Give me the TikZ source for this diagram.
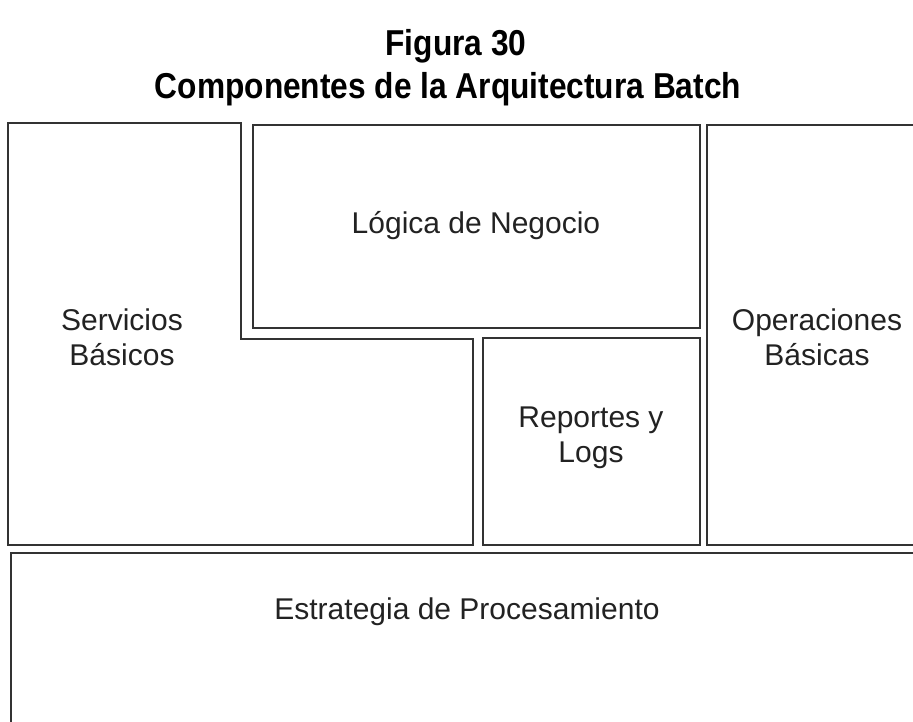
\documentclass[tikz,border=0pt]{standalone}
\usepackage{fontspec}
\usepackage{graphicx}
\setmainfont{Liberation Sans}
\definecolor{edge}{HTML}{333333}
\definecolor{ink}{HTML}{222222}
\begin{document}
\begin{tikzpicture}[x=1pt,y=-1pt,
  box/.style={draw=edge,line width=2pt,fill=white},
  lbl/.style={text=ink,align=center,font=\fontsize{30}{35}\selectfont,inner sep=0pt},
  ttl/.style={text=black,font=\bfseries\fontsize{36}{43}\selectfont,inner sep=0pt}]
\useasboundingbox (0,0) rectangle (913,721);
\fill[white] (0,0) rectangle (913,721);
\clip (0,0) rectangle (913,721);
% title
\node[ttl] (t1) at (456,46) {\scalebox{0.88}[1]{Figura 30}};
\node[ttl] (t2) at (448,89) {\scalebox{0.88}[1]{Componentes de la Arquitectura Batch}};
% boxes
\draw[box] (8,123) -- (241,123) -- (241,339) -- (473,339) -- (473,545) -- (8,545) -- cycle;
\draw[box] (253,125) rectangle (700,328);
\draw[box] (483,338) rectangle (700,545);
\draw[box] (707,125) rectangle (927,545);
\draw[box] (11,553) rectangle (923,740);
% labels
\node[lbl] (serv) at (122,337) {Servicios\\Básicos};
\node[lbl] (log) at (476,226) {Lógica de Negocio};
\node[lbl] (rep) at (591,438) {Reportes y\\Logs};
\node[lbl] (ope) at (817,337) {Operaciones\\Básicas};
\node[lbl] (est) at (467,612) {Estrategia de Procesamiento};
\end{tikzpicture}
\end{document}
